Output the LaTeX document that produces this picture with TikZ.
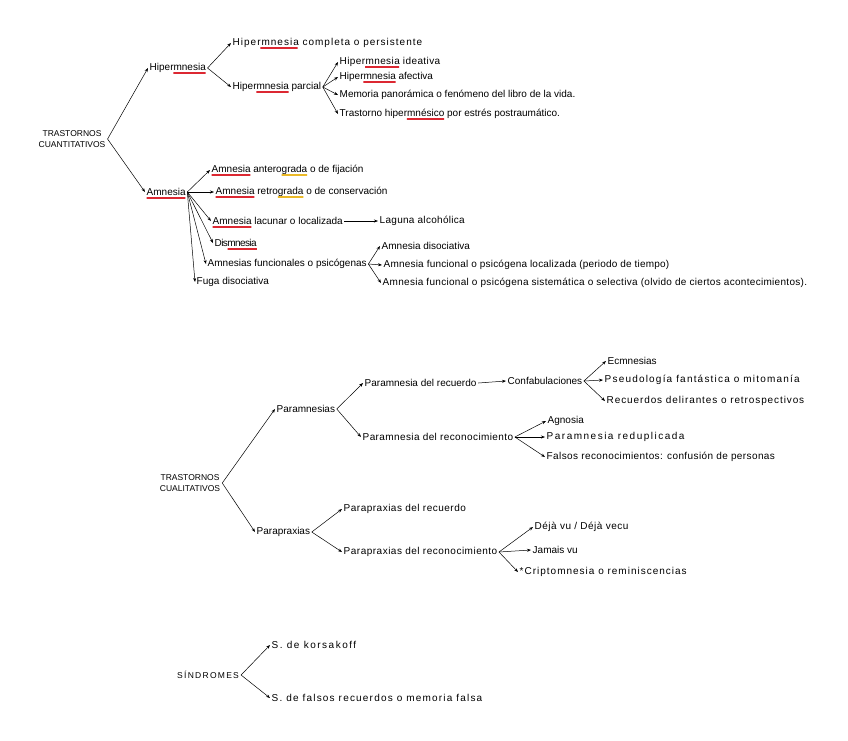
\documentclass[tikz,border=0pt]{standalone}
\usepackage{fontspec}
\setmainfont{Liberation Sans}
\usepackage{xcolor}
\usetikzlibrary{arrows.meta}
\definecolor{spellred}{RGB}{220, 40, 50}
\definecolor{spellgold}{RGB}{235, 185, 40}
\newlength\markfront
\newlength\marklen
% spell-check mark under part of a node's text
\newcommand\spellline[5][Liberation Sans]{%
  \font\markfnt="#1" at 10pt%
  \settowidth{\markfront}{\markfnt #4}%
  \settowidth{\marklen}{\markfnt #5}%
  \shade[left color=#3, right color=#3] (#2.base west) ++(1.5pt,0pt) ++(\markfront,-2.8pt) rectangle ++(\marklen,0.8pt);}
\tikzset{
  leaf/.style={anchor=west, inner sep=1.5pt, font=\fontsize{10}{12}\selectfont},
  wide/.style={font=\fontsize{10}{12}\selectfont\addfontfeatures{LetterSpace=#1}},
  root/.style={align=center, inner sep=2pt, font=\fontsize{8.5}{11.5}\selectfont},
  link/.style={->, >={Stealth[length=4pt,width=3pt]}, line width=0.5pt}
}
\begin{document}
\begin{tikzpicture}[x=1pt, y=-1pt]
    \useasboundingbox (0,0) rectangle (848,740);

    % Trastornos cuantitativos
    \node[root] (cuan) at (72,139) {TRASTORNOS\\CUANTITATIVOS};
    \node[leaf] (hiper) at (148,68) {Hipermnesia};
    \node[leaf, wide=10] (hcomp) at (231,43) {Hipermnesia completa o persistente};
    \node[leaf] (hparc) at (231,87) {Hipermnesia parcial};
    \node[leaf, wide=4] (hidea) at (338,62) {Hipermnesia ideativa};
    \node[leaf] (hafec) at (338,77) {Hipermnesia afectiva};
    \node[leaf] (hpano) at (338,95) {Memoria panorámica o fenómeno del libro de la vida.};
    \node[leaf] (hpost) at (338,114) {Trastorno hipermnésico por estrés postraumático.};
    \draw[link] (cuan.east) -- (hiper.west);
    \draw[link] (hiper.east) -- (hcomp.west);
    \draw[link] (hiper.east) -- (hparc.west);
    \foreach \n in {hidea, hafec, hpano, hpost}
        \draw[link] (hparc.east) -- (\n.west);

    % Amnesia
    \node[leaf] (amn) at (145,192) {Amnesia};
    \node[leaf] (aant) at (210,170) {Amnesia anterograda o de fijación};
    \node[leaf] (aret) at (214,192) {Amnesia retrograda o de conservación};
    \node[leaf] (alac) at (211,221) {Amnesia lacunar o localizada};
    \node[leaf, wide=3] (lagu) at (378,221) {Laguna alcohólica};
    \node[leaf, wide=-6] (dism) at (213,243) {Dismnesia};
    \node[leaf] (afun) at (206,264) {Amnesias funcionales o psicógenas};
    \node[leaf] (fuga) at (195,282) {Fuga disociativa};
    \node[leaf] (adis) at (380,246) {Amnesia disociativa};
    \node[leaf, wide=2] (aloc) at (382,265) {Amnesia funcional o psicógena localizada (periodo de tiempo)};
    \node[leaf, wide=3] (asis) at (381,283) {Amnesia funcional o psicógena sistemática o selectiva (olvido de ciertos acontecimientos).};
    \draw[link] (cuan.east) -- (amn.west);
    \foreach \n in {aant, aret, alac, dism, afun, fuga}
        \draw[link] (amn.east) -- (\n.west);
    \draw[link] (alac.east) -- (lagu.west);
    \foreach \n in {adis, aloc, asis}
        \draw[link] (afun.east) -- (\n.west);

    % spell-check marks
    \spellline{hiper}{spellred}{Hiper}{mnesia}
    \spellline[Liberation Sans:letterspace=10]{hcomp}{spellred}{Hiper}{mnesia}
    \spellline{hparc}{spellred}{Hiper}{mnesia}
    \spellline[Liberation Sans:letterspace=4]{hidea}{spellred}{Hiper}{mnesia}
    \spellline{hafec}{spellred}{Hiper}{mnesia}
    \spellline{hpost}{spellred}{Trastorno hiper}{mnésico}
    \spellline{amn}{spellred}{}{Amnesia}
    \spellline{aant}{spellred}{}{Amnesia}
    \spellline{aant}{spellgold}{Amnesia antero}{grada}
    \spellline{aret}{spellred}{}{Amnesia}
    \spellline{aret}{spellgold}{Amnesia retro}{grada}
    \spellline{alac}{spellred}{}{Amnesia}
    \spellline[Liberation Sans:letterspace=-6]{dism}{spellred}{Dis}{mnesia}

    % Trastornos cualitativos
    \node[root] (cual) at (190,483) {TRASTORNOS\\CUALITATIVOS};
    \node[leaf] (param) at (275,409) {Paramnesias};
    \node[leaf] (precu) at (363,383) {Paramnesia del recuerdo};
    \node[leaf] (confa) at (506,381) {Confabulaciones};
    \node[leaf] (ecm) at (606,361) {Ecmnesias};
    \node[leaf, wide=12] (pseu) at (603,380) {Pseudología fantástica o mitomanía};
    \node[leaf, wide=9] (recd) at (605,401) {Recuerdos delirantes o retrospectivos};
    \node[leaf, wide=4] (preco) at (361,437) {Paramnesia del reconocimiento};
    \node[leaf] (agn) at (546,421) {Agnosia};
    \node[leaf, wide=15] (pred) at (545,437) {Paramnesia reduplicada};
    \node[leaf, wide=4] (fals) at (545,457) {Falsos reconocimientos: confusión de personas};
    \draw[link] (cual.east) -- (param.west);
    \draw[link] (param.east) -- (precu.west);
    \draw[link] (param.east) -- (preco.west);
    \draw[link] (precu.east) -- (confa.west);
    \foreach \n in {ecm, pseu, recd}
        \draw[link] (confa.east) -- (\n.west);
    \foreach \n in {agn, pred, fals}
        \draw[link] (preco.east) -- (\n.west);

    % Parapraxias
    \node[leaf] (parap) at (255,532) {Parapraxias};
    \node[leaf, wide=5] (pxrec) at (342,509) {Parapraxias del recuerdo};
    \node[leaf, wide=5] (pxreco) at (342,552) {Parapraxias del reconocimiento};
    \node[leaf, wide=5] (deja) at (533,527) {Déjà vu / Déjà vecu};
    \node[leaf] (jam) at (531,550) {Jamais vu};
    \node[leaf, wide=10] (cript) at (518,572) {*Criptomnesia o reminiscencias};
    \draw[link] (cual.east) -- (parap.west);
    \draw[link] (parap.east) -- (pxrec.west);
    \draw[link] (parap.east) -- (pxreco.west);
    \foreach \n in {deja, jam, cript}
        \draw[link] (pxreco.east) -- (\n.west);

    % Sindromes
    \node[root, anchor=west, font=\fontsize{8.5}{11.5}\selectfont\addfontfeatures{LetterSpace=15}] (sind) at (175,675) {SÍNDROMES};
    \node[leaf, wide=15] (kors) at (270,645) {S. de korsakoff};
    \node[leaf, wide=12] (sfal) at (270,698) {S. de falsos recuerdos o memoria falsa};
    \draw[link] (sind.east) -- (kors.west);
    \draw[link] (sind.east) -- (sfal.west);
\end{tikzpicture}
\end{document}
